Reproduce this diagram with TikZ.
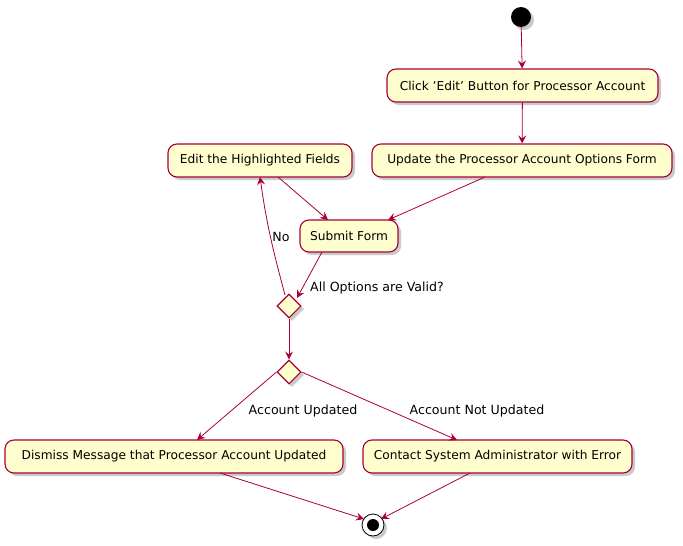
\documentclass[tikz,border=0pt]{standalone}
\usepackage{fontspec}
\setmainfont{DejaVu Sans}[Ligatures=ResetAll]
\usetikzlibrary{arrows.meta,shapes.geometric,shadows}
\definecolor{umlred}{HTML}{A80036}
\definecolor{umlfill}{HTML}{FEFECE}
\tikzset{
  shade/.style={drop shadow={shadow xshift=3pt,shadow yshift=-3pt,opacity=0.35,fill=black!60}},
  act/.style={draw=umlred,fill=umlfill,line width=1.1pt,rounded corners=9pt,minimum height=33pt,inner sep=0pt,font=\fontsize{12.2}{14}\selectfont,shade},
  dia/.style={draw=umlred,fill=umlfill,line width=1.1pt,diamond,minimum size=24pt,inner sep=0pt,shade},
  flow/.style={draw=umlred,line width=0.8pt,-{Stealth[length=8pt,width=8pt,inset=3pt]}},
  lbl/.style={font=\fontsize{12.6}{14}\selectfont,inner sep=0pt}
}
\begin{document}
\begin{tikzpicture}[x=1pt,y=-1pt]
\useasboundingbox (0,0) rectangle (683,546);
\node[circle,fill=black,minimum size=20pt,inner sep=0pt,shade] (start) at (521,17) {};
\node[act,minimum width=271pt] (click) at (522.5,85.5) {Click 'Edit' Button for Processor Account};
\node[act,minimum width=300pt] (update) at (522,160.5) {Update the Processor Account Options Form};
\node[act,minimum width=184pt] (edit) at (260,160.5) {Edit the Highlighted Fields};
\node[act,minimum width=98pt,minimum height=32pt] (submit) at (349,236) {Submit Form};
\node[dia] (d1) at (289,306) {};
\node[dia] (d2) at (289,372) {};
\node[act,minimum width=338pt] (dismiss) at (174,456.5) {Dismiss Message that Processor Account Updated};
\node[act,minimum width=269pt] (contact) at (497.5,456.5) {Contact System Administrator with Error};
\node[circle,draw=black,line width=0.8pt,fill=white,minimum size=22pt,inner sep=0pt,shade] (end) at (373,525) {};
\node[circle,fill=black,minimum size=12pt,inner sep=0pt] at (end) {};

\coordinate (updOut) at (485,177);
\coordinate (subInR) at (388,220);
\coordinate (editOut) at (278,177);
\coordinate (subInL) at (328,220);
\coordinate (subOut) at (322,252);
\coordinate (d1In) at (297,298);
\coordinate (d1Up) at (285,295);
\coordinate (editIn) at (260,177);
\coordinate (dismissIn) at (197,440);
\coordinate (contactIn) at (457,440);
\coordinate (dismissOut) at (220,473);
\coordinate (contactOut) at (470,473);
\coordinate (endL) at (364,519);
\coordinate (endR) at (381,519);

\draw[flow] (start) -- (click);
\draw[flow] (click) -- (update);
\draw[flow] (updOut) -- (subInR);
\draw[flow] (editOut) -- (subInL);
\draw[flow] (subOut) -- (d1In);
\draw[flow] (d1Up) to[out=105,in=-82] (editIn);
\draw[flow] (d1.south) -- (d2.north);
\draw[flow] (d2.west) -- (dismissIn);
\draw[flow] (d2.east) -- (contactIn);
\draw[flow] (dismissOut) -- (endL);
\draw[flow] (contactOut) -- (endR);

\node[lbl] (lno) at (281,237) {No};
\node[lbl,anchor=west] (lvalid) at (310,288) {All Options are Valid?};
\node[lbl] (lupd) at (303,411) {Account Updated};
\node[lbl] (lnot) at (477,411) {Account Not Updated};
\end{tikzpicture}
\end{document}
